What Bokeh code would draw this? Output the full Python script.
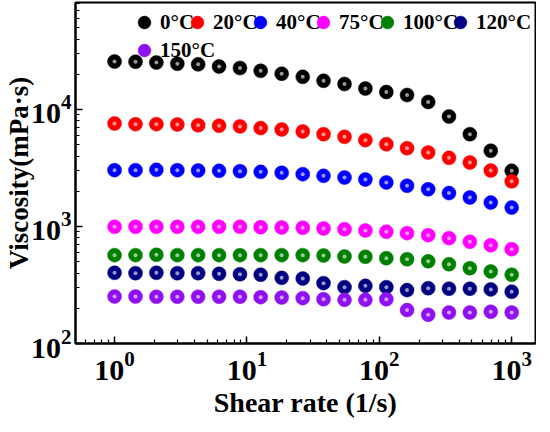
from bokeh.plotting import figure
from bokeh.models import Legend, LegendItem, Range1d
from bokeh.embed import file_html
from bokeh.resources import INLINE

shear_rate = [1.0, 1.44, 2.07, 2.98, 4.28, 6.16, 8.86, 12.7, 18.3, 26.4,
              37.9, 54.6, 78.5, 113, 162, 234, 336, 483, 695, 1000]
labels = ["0°C", "20°C", "40°C", "75°C", "100°C", "120°C", "150°C"]
colors = ["#000000", "#FF0000", "#0000FF", "#FF00FF", "#008000", "#000080", "#8F10F0"]
v0 = [25700, 25600, 25200, 24600, 24300, 23300, 22600, 21400, 20200, 19000,
      17600, 16500, 15100, 14100, 13300, 11600, 8710, 6150, 4440, 2990]
v20 = [7590, 7490, 7490, 7440, 7340, 7260, 7170, 6930, 6750, 6490,
       6150, 5840, 5470, 5050, 4670, 4290, 3860, 3520, 3010, 2430]
v40 = [3030, 3030, 3050, 3030, 3010, 2990, 2970, 2930, 2880, 2800,
       2710, 2620, 2520, 2380, 2230, 2080, 1930, 1770, 1600, 1450]
v75 = [994, 994, 994, 994, 994, 994, 994, 986, 980, 975,
       962, 948, 924, 901, 877, 843, 795, 740, 692, 640]
v100 = [569, 569, 573, 569, 569, 569, 569, 569, 569, 569,
        565, 554, 551, 536, 525, 505, 476, 440, 413, 387]
v120 = [402, 399, 402, 399, 399, 394, 391, 387, 364, 359,
        328, 303, 311, 303, 286, 297, 294, 294, 290, 277]
v150 = [252, 252, 251, 251, 251, 251, 251, 249, 247, 244,
        239, 236, 236, 239, 193, 176, 184, 184, 187, 184]
series = [v0, v20, v40, v75, v100, v120, v150]

# legend layout (frame pixels): glyph centre x and row bottom y
legend_x = [69, 122, 185, 248, 312, 385, 69]
legend_y = [305, 305, 305, 305, 305, 305, 277]

FONT = "Liberation Serif"

p = figure(x_axis_type="log", y_axis_type="log",
           x_range=Range1d(0.507, 1513), y_range=Range1d(100, 82100),
           frame_width=460, frame_height=341,
           min_border_left=73, min_border_right=1, min_border_top=2, min_border_bottom=73,
           output_backend="svg", toolbar_location=None,
           background_fill_color="white", border_fill_color="white")
p.xgrid.visible = False
p.ygrid.visible = False
p.outline_line_color = "black"
p.outline_line_width = 2
p.outline_line_alpha = 1

for lab, col, vals, lx, ly in zip(labels, colors, series, legend_x, legend_y):
    r1 = p.scatter(shear_rate, vals, size=14, fill_color=col, line_color=col, line_width=0.5)
    p.scatter(shear_rate, vals, size=4, fill_color="white", line_color=None, fill_alpha=0.6)
    leg = Legend(items=[LegendItem(label=lab, renderers=[r1])],
                 orientation="horizontal", location=(lx - 16, ly))
    leg.label_text_font = FONT
    leg.label_text_font_style = "bold"
    leg.label_text_font_size = "21px"
    leg.label_text_color = "black"
    leg.glyph_width = 32
    leg.glyph_height = 32
    leg.label_standoff = -4
    leg.spacing = 0
    leg.padding = 0
    leg.margin = 0
    leg.label_height = 24
    leg.background_fill_alpha = 0
    leg.border_line_alpha = 0
    p.add_layout(leg)

for ax in (p.xaxis, p.yaxis):
    ax.axis_line_width = 2
    ax.axis_line_color = "black"
    ax.major_tick_in = 7
    ax.major_tick_out = 0
    ax.minor_tick_in = 4
    ax.minor_tick_out = 0
    ax.major_tick_line_width = 1.5
    ax.minor_tick_line_width = 1.2
    ax.major_tick_line_color = "black"
    ax.minor_tick_line_color = "black"
    ax.major_label_text_font = FONT
    ax.major_label_text_font_style = "bold"
    ax.major_label_text_font_size = "30px"
    ax.major_label_text_color = "black"
    ax.axis_label_text_font = FONT
    ax.axis_label_text_font_style = "bold"
    ax.axis_label_text_color = "black"

p.xaxis.axis_label = "Shear rate (1/s)"
p.yaxis.axis_label = "Viscosity(mPa·s)"
p.xaxis.axis_label_text_font_size = "28px"
p.yaxis.axis_label_text_font_size = "27px"
p.xaxis.major_label_standoff = 8
p.yaxis.major_label_standoff = 4
p.xaxis.axis_label_standoff = 4
p.yaxis.axis_label_standoff = -6

open("out.html", "w").write(file_html(p, INLINE))
